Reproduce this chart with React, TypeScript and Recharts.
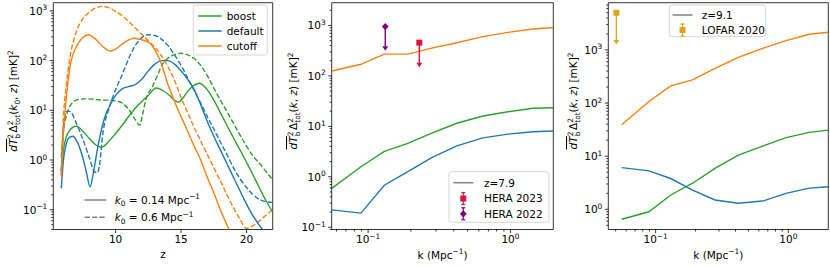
import React from 'react';
import { ComposedChart, Line, Scatter, XAxis, YAxis, ReferenceArea } from 'recharts';

const FONT = '"DejaVu Sans", Verdana, sans-serif';
const FS = 10.5;
const SUP = 7.4;

const GREEN = '#2ca02c';
const BLUE = '#1f77b4';
const ORANGE = '#ff7f0e';
const GRAY = '#808080';
const HERA23_COLOR = '#dc143c';
const HERA22_COLOR = '#800080';
const LOFAR_COLOR = '#daa520';

// left panel: power at fixed k0 against redshift, [z, value] pairs
const boostK014: [number, number][] = [
  [5.85, 0.6], [6.0, 1.5], [6.25, 3], [6.5, 4], [7.0, 4.8], [7.5, 3.8], [8.0, 2.7], [8.5, 2.0],
  [8.9, 1.8], [9.5, 2.4], [10.0, 3.4], [10.5, 5], [11.0, 7.5], [11.5, 11], [12.0, 15], [12.5, 20],
  [13.1, 28], [13.6, 25], [14.1, 20], [14.5, 16], [14.8, 14.5], [15.1, 17], [15.5, 24], [16.0, 32],
  [16.4, 35], [17.0, 26], [17.5, 16], [18.0, 9], [18.5, 5], [19.0, 2.8], [19.5, 1.6], [20.0, 0.9],
  [20.5, 0.5], [21.0, 0.27], [21.5, 0.15], [22.0, 0.09],
];
const boostK06: [number, number][] = [
  [5.85, 1.1], [6.0, 3.5], [6.25, 8], [6.5, 12], [7.0, 16], [7.5, 17], [8.0, 17], [8.5, 16.5],
  [9.0, 16], [9.5, 16], [10.0, 15.5], [10.5, 14], [11.0, 10.5], [11.5, 6.5], [11.85, 5], [12.05, 8],
  [12.3, 16], [12.8, 30], [13.2, 50], [13.5, 78], [14.0, 112], [14.5, 132], [15.0, 140], [15.5, 130],
  [16.0, 110], [16.5, 80], [17.0, 50], [17.5, 28], [18.0, 16], [18.5, 9.5], [19.0, 5.5], [19.5, 3.2],
  [20.0, 1.9], [20.5, 1.2], [21.0, 0.85], [21.5, 0.58], [22.0, 0.4],
];
const defaultK014: [number, number][] = [
  [5.85, 0.27], [6.0, 0.9], [6.25, 2.2], [6.5, 2.9], [6.75, 3.0], [7.0, 2.5], [7.5, 1.1], [7.75, 0.6],
  [8.05, 0.29], [8.3, 0.55], [8.6, 1.6], [9.0, 5], [9.3, 9], [9.6, 13], [10.0, 20], [10.5, 27],
  [11.0, 30], [11.5, 33], [12.0, 42], [12.5, 62], [13.0, 85], [13.5, 100], [14.0, 100], [14.5, 85],
  [15.0, 62], [15.5, 42], [16.0, 26], [16.5, 13], [17.0, 6], [17.5, 3], [18.0, 1.6], [18.5, 0.85],
  [19.0, 0.45], [19.5, 0.24], [20.0, 0.13], [20.5, 0.075], [21.0, 0.048], [21.3, 0.038],
];
const defaultK06: [number, number][] = [
  [5.85, 0.6], [6.0, 4], [6.25, 9.5], [6.5, 9.5], [7.0, 5.5], [7.5, 2.6], [8.0, 1.1], [8.35, 0.6],
  [8.6, 0.55], [8.8, 0.9], [9.0, 3], [9.5, 11], [10.0, 26], [10.5, 52], [11.0, 110], [11.5, 200],
  [12.0, 290], [12.5, 330], [13.0, 320], [13.5, 270], [14.0, 200], [14.5, 130], [15.0, 80], [15.5, 45],
  [16.0, 25], [16.5, 14], [17.0, 7.5], [17.5, 4.2], [18.0, 2.3], [18.5, 1.3], [19.0, 0.7], [19.5, 0.42],
  [20.0, 0.28], [20.5, 0.2], [21.0, 0.16], [21.5, 0.145], [22.0, 0.14],
];
const cutoffK014: [number, number][] = [
  [5.85, 0.45], [6.0, 3], [6.25, 20], [6.5, 70], [7.0, 190], [7.5, 290], [7.9, 330], [8.5, 265],
  [9.0, 195], [9.6, 156], [10.0, 170], [10.5, 215], [11.0, 260], [11.4, 282], [12.0, 262], [12.6, 225],
  [13.0, 165], [13.4, 100], [14.0, 33], [14.5, 15], [15.0, 7.5], [15.5, 3.8], [16.0, 1.9], [16.5, 1.0],
  [17.0, 0.45], [17.5, 0.22], [18.0, 0.1], [18.5, 0.05], [18.7, 0.038],
];
const cutoffK06: [number, number][] = [
  [5.85, 0.5], [6.0, 6], [6.25, 35], [6.5, 110], [7.0, 380], [7.5, 700], [8.0, 950], [8.5, 1150],
  [9.0, 1230], [9.5, 1150], [10.0, 980], [10.5, 800], [11.0, 620], [11.5, 450], [12.0, 340], [12.5, 250],
  [13.0, 185], [13.5, 125], [14.0, 75], [14.5, 40], [15.0, 18], [15.5, 9], [16.0, 4.5], [16.5, 2.4],
  [17.0, 1.3], [17.5, 0.7], [18.0, 0.38], [18.5, 0.2], [19.0, 0.11], [19.5, 0.065], [20.0, 0.042],
  [20.5, 0.048], [21.0, 0.06], [21.5, 0.078], [22.0, 0.1],
];

// middle and right panels share the k grid
const kValues = [0.0555, 0.089, 0.13, 0.19, 0.28, 0.42, 0.64, 0.96, 1.44, 2.0];
const z79Boost = [0.59, 1.58, 3.2, 4.6, 7.3, 11.5, 16, 19.5, 22.8, 23.4];
const z79Default = [0.22, 0.19, 0.68, 1.26, 2.4, 4.1, 5.9, 7.0, 7.8, 8.1];
const z79Cutoff = [125, 170, 270, 270, 355, 455, 600, 730, 850, 910];
const z91Boost = [0.65, 0.9, 1.86, 3.1, 5.9, 10.5, 15.5, 22.4, 28, 31];
const z91Default = [6.1, 5.3, 3.8, 2.3, 1.5, 1.3, 1.43, 2.0, 2.5, 2.66];
const z91Cutoff = [39, 107, 210, 272, 450, 725, 1070, 1500, 1970, 2150];

// upper limits: [k, measured value, end of arrow]
const hera2023: [number, number, number] = [0.229, 457, 178];
const hera2022: [number, number, number] = [0.132, 950, 380];
const lofar2020: [number, number, number] = [0.0506, 5000, 1500];

const modelNames = ['boost', 'default', 'cutoff'];
const modelColors = [GREEN, BLUE, ORANGE];

const zTicks = [10, 15, 20];
const leftYMajor = [0.1, 1, 10, 100, 1000];
const midYMajor = [0.1, 1, 10, 100, 1000];
const rightYMajor = [1, 10, 100, 1000];
const kMajor = [0.1, 1];

const withMinors = (majors: number[], lo: number, hi: number) => {
  const out: number[] = [];
  const first = Math.floor(Math.log10(lo));
  const last = Math.ceil(Math.log10(hi));
  for (let e = first; e <= last; e++) {
    for (let m = 1; m < 10; m++) {
      const v = +(m * Math.pow(10, e)).toPrecision(6);
      if (v >= lo && v <= hi && (m > 1 || majors.includes(v))) out.push(v);
    }
  }
  return out;
};

const pairs = (pts: [number, number][]) => pts.map(([x, y]) => ({ x, y }));
const onGrid = (ys: number[]) => kValues.map((x, i) => ({ x, y: ys[i] }));

const isDecade = (v: number) => Math.abs(Math.log10(v) - Math.round(Math.log10(v))) < 1e-6;
const expText = (v: number) => {
  const e = Math.round(Math.log10(v));
  return e < 0 ? `\u2212${-e}` : `${e}`;
};

const LogYTick = (props: any) => {
  const { x, y, payload } = props;
  const major = isDecade(payload.value);
  return (
    <g>
      <line x1={x} x2={x - (major ? 3.5 : 2)} y1={y} y2={y} stroke="#000" strokeWidth={0.8} />
      {major && (
        <text x={x - 6} y={y + 4} textAnchor="end" fontSize={FS} fontFamily={FONT} fill="#000">
          10<tspan dy={-4.5} fontSize={SUP}>{expText(payload.value)}</tspan>
        </text>
      )}
    </g>
  );
};

const LogXTick = (props: any) => {
  const { x, y, payload } = props;
  const major = isDecade(payload.value);
  return (
    <g>
      <line x1={x} x2={x} y1={y} y2={y + (major ? 3.5 : 2)} stroke="#000" strokeWidth={0.8} />
      {major && (
        <text x={x} y={y + 13.5} textAnchor="middle" fontSize={FS} fontFamily={FONT} fill="#000">
          10<tspan dy={-4.5} fontSize={SUP}>{expText(payload.value)}</tspan>
        </text>
      )}
    </g>
  );
};

const LinXTick = (props: any) => {
  const { x, y, payload } = props;
  return (
    <g>
      <line x1={x} x2={x} y1={y} y2={y + 3.5} stroke="#000" strokeWidth={0.8} />
      <text x={x} y={y + 13.5} textAnchor="middle" fontSize={FS} fontFamily={FONT} fill="#000">
        {payload.value}
      </text>
    </g>
  );
};

// y title: \overline{dT}_b^2 \Delta^2_tot(k, z) [mK]^2
const YTitle = ({ tx, ty, sub0 }: { tx: number; ty: number; sub0?: boolean }) => (
  <text
    transform={`translate(${tx},${ty}) rotate(-90)`}
    textAnchor="middle"
    fontSize={FS}
    fontFamily={FONT}
    fill="#000"
  >
    <tspan fontStyle="italic" textDecoration="overline">dT</tspan>
    <tspan fontSize={SUP} dy={-4.5}>2</tspan>
    <tspan fontSize={SUP} dx={-4.6} dy={7.5}>b</tspan>
    <tspan dx={1.5} dy={-3}>Δ</tspan>
    <tspan fontSize={SUP} dy={-4.5}>2</tspan>
    <tspan fontSize={SUP} dx={-4.6} dy={7.5}>tot</tspan>
    <tspan dy={-3}>(</tspan>
    <tspan fontStyle="italic">k</tspan>
    {sub0 ? (
      <>
        <tspan fontSize={SUP} dy={2.5}>0</tspan>
        <tspan dy={-2.5}>, </tspan>
      </>
    ) : (
      <tspan>, </tspan>
    )}
    <tspan fontStyle="italic">z</tspan>
    <tspan>) [mK]</tspan>
    <tspan fontSize={SUP} dy={-4.5}>2</tspan>
  </text>
);

const XTitle = ({ tx, ty, kind }: { tx: number; ty: number; kind: 'z' | 'k' }) => (
  <text x={tx} y={ty} textAnchor="middle" fontSize={FS} fontFamily={FONT} fill="#000">
    {kind === 'z' ? (
      'z'
    ) : (
      <>
        k (Mpc<tspan fontSize={SUP} dy={-4.5}>{'\u22121'}</tspan>
        <tspan dy={4.5}>)</tspan>
      </>
    )}
  </text>
);

const axisBase = {
  type: 'number' as const,
  tickLine: false,
  axisLine: false,
  tickSize: 0,
  tickMargin: 0,
  interval: 0 as const,
  allowDataOverflow: true,
};

const Square = (color: string) => (p: any) => (
  <rect x={p.cx - 3} y={p.cy - 3} width={6} height={6} fill={color} />
);
const Diamond = (color: string) => (p: any) => (
  <path d={`M${p.cx},${p.cy - 3.6}L${p.cx + 3.4},${p.cy}L${p.cx},${p.cy + 3.6}L${p.cx - 3.4},${p.cy}Z`} fill={color} />
);
const ArrowHead = (color: string) => (p: any) => (
  <path d={`M${p.cx - 3},${p.cy - 0.5}L${p.cx + 3},${p.cy - 0.5}L${p.cx},${p.cy + 4}Z`} fill={color} />
);

const limitMarks = (lim: [number, number, number], color: string, marker: (c: string) => (p: any) => JSX.Element) => [
  <Line
    key="stem"
    data={[{ x: lim[0], y: lim[1] }, { x: lim[0], y: lim[2] }]}
    dataKey="y"
    type="linear"
    stroke={color}
    strokeWidth={1.4}
    dot={false}
    isAnimationActive={false}
  />,
  <Scatter key="arrow" data={[{ x: lim[0], y: lim[2] }]} dataKey="y" shape={ArrowHead(color)} isAnimationActive={false} />,
  <Scatter key="mark" data={[{ x: lim[0], y: lim[1] }]} dataKey="y" shape={marker(color)} isAnimationActive={false} />,
];

const curve = (key: string, data: { x: number; y: number }[], color: string, dashed: boolean, smooth: boolean) => (
  <Line
    key={key}
    data={data}
    dataKey="y"
    type={smooth ? 'monotone' : 'linear'}
    stroke={color}
    strokeWidth={1.4}
    strokeDasharray={dashed ? '5.2 2.2' : undefined}
    dot={false}
    isAnimationActive={false}
  />
);

const LEFT_X: [number, number] = [5.24, 22];
const LEFT_Y: [number, number] = [0.04, 1460];
const MID_X: [number, number] = [0.0555, 2.0];
const MID_Y: [number, number] = [0.09, 2830];
const RIGHT_X: [number, number] = [0.044, 2.0];
const RIGHT_Y: [number, number] = [0.417, 7740];

const Frame = ({ x, y }: { x: [number, number]; y: [number, number] }) => null;

const ErrLegendMark = ({ cx, cy, color, diamond }: { cx: number; cy: number; color: string; diamond?: boolean }) => (
  <g>
    <line x1={cx} x2={cx} y1={cy - 6} y2={cy + 6} stroke={color} strokeWidth={1.2} />
    <line x1={cx - 2} x2={cx + 2} y1={cy - 6} y2={cy - 6} stroke={color} strokeWidth={1.2} />
    <line x1={cx - 2} x2={cx + 2} y1={cy + 6} y2={cy + 6} stroke={color} strokeWidth={1.2} />
    {diamond ? (
      <path d={`M${cx},${cy - 3.6}L${cx + 3.4},${cy}L${cx},${cy + 3.6}L${cx - 3.4},${cy}Z`} fill={color} />
    ) : (
      <rect x={cx - 3} y={cy - 3} width={6} height={6} fill={color} />
    )}
  </g>
);

const Legends = () => (
  <svg
    width={830}
    height={267}
    style={{ position: 'absolute', left: 0, top: 0, pointerEvents: 'none' }}
    fontFamily={FONT}
    fontSize={FS}
  >
    <rect x={193.3} y={5} width={74} height={50} rx={2.5} fill="#fff" fillOpacity={0.8} stroke="#ccc" strokeWidth={0.8} />
    {modelNames.map((name, i) => (
      <g key={name}>
        <line x1={198.3} x2={221.7} y1={16 + 15 * i} y2={16 + 15 * i} stroke={modelColors[i]} strokeWidth={1.5} />
        <text x={226.7} y={16 + 15 * i + 3.8}>{name}</text>
      </g>
    ))}

    <line x1={84.7} x2={106.3} y1={200} y2={200} stroke={GRAY} strokeWidth={1.5} />
    <line x1={84.7} x2={106.3} y1={217.3} y2={217.3} stroke={GRAY} strokeWidth={1.5} strokeDasharray="5.2 2.2" />
    <text x={114.7} y={203.8}>
      <tspan fontStyle="italic">k</tspan>
      <tspan fontSize={SUP} dy={2.5}>0</tspan>
      <tspan dy={-2.5}> = 0.14 Mpc</tspan>
      <tspan fontSize={SUP} dy={-4.5}>{'\u22121'}</tspan>
    </text>
    <text x={114.7} y={221.1}>
      <tspan fontStyle="italic">k</tspan>
      <tspan fontSize={SUP} dy={2.5}>0</tspan>
      <tspan dy={-2.5}> = 0.6 Mpc</tspan>
      <tspan fontSize={SUP} dy={-4.5}>{'\u22121'}</tspan>
    </text>

    <rect x={449} y={171.7} width={100} height={50.6} rx={2.5} fill="#fff" fillOpacity={0.8} stroke="#ccc" strokeWidth={0.8} />
    <line x1={453.3} x2={473.3} y1={182.7} y2={182.7} stroke={GRAY} strokeWidth={1.5} />
    <text x={484} y={186.5}>z=7.9</text>
    <ErrLegendMark cx={463.3} cy={198.5} color={HERA23_COLOR} />
    <text x={484} y={202.3}>HERA 2023</text>
    <ErrLegendMark cx={463.3} cy={213.8} color={HERA22_COLOR} diamond />
    <text x={484} y={217.6}>HERA 2022</text>

    <rect x={669.3} y={5} width={96.4} height={31.7} rx={2.5} fill="#fff" fillOpacity={0.8} stroke="#ccc" strokeWidth={0.8} />
    <line x1={672.5} x2={692.5} y1={15} y2={15} stroke={GRAY} strokeWidth={1.5} />
    <text x={701.7} y={18.8}>z=9.1</text>
    <ErrLegendMark cx={682.5} cy={30} color={LOFAR_COLOR} />
    <text x={701.7} y={33.8}>LOFAR 2020</text>
  </svg>
);

export default function App() {
  return (
    <div style={{ position: 'absolute', left: 0, top: 0, width: 830, height: 267, background: '#fff' }}>
      <div style={{ position: 'absolute', left: 0, top: 0 }}>
        <ComposedChart width={276} height={267} margin={{ top: 2.7, right: 3.3, bottom: 0, left: 0 }}>
          <XAxis
            {...axisBase}
            dataKey="x"
            domain={LEFT_X}
            ticks={zTicks}
            height={37.5}
            tick={LinXTick}
            label={<XTitle tx={163} ty={258} kind="z" />}
          />
          <YAxis
            {...axisBase}
            scale="log"
            domain={LEFT_Y}
            ticks={withMinors(leftYMajor, LEFT_Y[0], LEFT_Y[1])}
            width={53.3}
            tick={LogYTick}
            label={<YTitle tx={17} ty={101} sub0 />}
          />
          {curve('gd', pairs(boostK06), GREEN, true, true)}
          {curve('bd', pairs(defaultK06), BLUE, true, true)}
          {curve('od', pairs(cutoffK06), ORANGE, true, true)}
          {curve('gs', pairs(boostK014), GREEN, false, true)}
          {curve('bs', pairs(defaultK014), BLUE, false, true)}
          {curve('os', pairs(cutoffK014), ORANGE, false, true)}
          <ReferenceArea x1={LEFT_X[0]} x2={LEFT_X[1]} y1={LEFT_Y[0]} y2={LEFT_Y[1]} fill="none" stroke="#000" strokeWidth={0.8} />
        </ComposedChart>
      </div>

      <div style={{ position: 'absolute', left: 280, top: 0 }}>
        <ComposedChart width={276} height={267} margin={{ top: 2.7, right: 2.7, bottom: 0, left: 0 }}>
          <XAxis
            {...axisBase}
            dataKey="x"
            scale="log"
            domain={MID_X}
            ticks={withMinors(kMajor, MID_X[0], MID_X[1] * 0.999)}
            height={37.5}
            tick={LogXTick}
            label={<XTitle tx={162.5} ty={258.5} kind="k" />}
          />
          <YAxis
            {...axisBase}
            scale="log"
            domain={MID_Y}
            ticks={withMinors(midYMajor, MID_Y[0], MID_Y[1])}
            width={51.7}
            tick={LogYTick}
            label={<YTitle tx={17} ty={101} />}
          />
          {curve('mo', onGrid(z79Cutoff), ORANGE, false, false)}
          {curve('mg', onGrid(z79Boost), GREEN, false, false)}
          {curve('mb', onGrid(z79Default), BLUE, false, false)}
          {limitMarks(hera2023, HERA23_COLOR, Square)}
          {limitMarks(hera2022, HERA22_COLOR, Diamond)}
          <ReferenceArea x1={MID_X[0]} x2={MID_X[1]} y1={MID_Y[0]} y2={MID_Y[1]} fill="none" stroke="#000" strokeWidth={0.8} />
        </ComposedChart>
      </div>

      <div style={{ position: 'absolute', left: 556, top: 0 }}>
        <ComposedChart width={274} height={267} margin={{ top: 2.7, right: 1.7, bottom: 0, left: 0 }}>
          <XAxis
            {...axisBase}
            dataKey="x"
            scale="log"
            domain={RIGHT_X}
            ticks={withMinors(kMajor, RIGHT_X[0], RIGHT_X[1] * 0.999)}
            height={37.5}
            tick={LogXTick}
            label={<XTitle tx={162.3} ty={258.5} kind="k" />}
          />
          <YAxis
            {...axisBase}
            scale="log"
            domain={RIGHT_Y}
            ticks={withMinors(rightYMajor, RIGHT_Y[0], RIGHT_Y[1])}
            width={52.3}
            tick={LogYTick}
            label={<YTitle tx={21} ty={101} />}
          />
          {curve('ro', onGrid(z91Cutoff), ORANGE, false, false)}
          {curve('rg', onGrid(z91Boost), GREEN, false, false)}
          {curve('rb', onGrid(z91Default), BLUE, false, false)}
          {limitMarks(lofar2020, LOFAR_COLOR, Square)}
          <ReferenceArea x1={RIGHT_X[0]} x2={RIGHT_X[1]} y1={RIGHT_Y[0]} y2={RIGHT_Y[1]} fill="none" stroke="#000" strokeWidth={0.8} />
        </ComposedChart>
      </div>

      <Legends />
    </div>
  );
}
